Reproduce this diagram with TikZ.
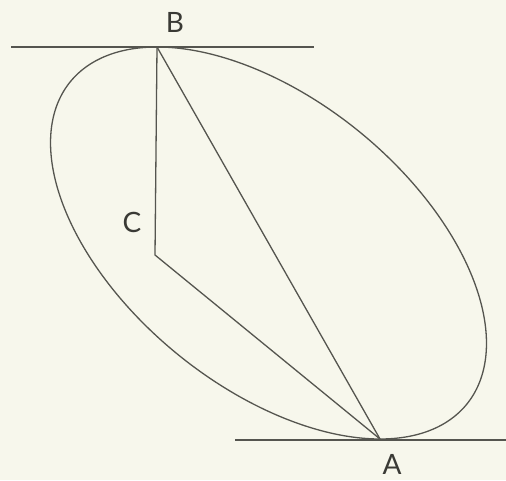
\documentclass[tikz,border=0pt]{standalone}
\usepackage{fontspec}
\setmainfont{Lato}
\definecolor{bg}{HTML}{F7F7EC}
\definecolor{ink}{HTML}{55554F}
\definecolor{txt}{HTML}{3A3A35}
\begin{document}
\begin{tikzpicture}[x=0.5pt,y=-0.5pt,
  geo/.style={draw=ink,line width=0.65pt},
  lbl/.style={text=txt,font=\fontsize{14}{16}\selectfont,inner sep=0pt}]
\fill[bg] (0,0) rectangle (506,480);
\useasboundingbox (0,0) rectangle (506,480);
\coordinate (B) at (157,47);
\coordinate (A) at (380,439);
\coordinate (C) at (155,255);
\coordinate (O) at (268.5,243);
\coordinate (tl) at (11,47);
\coordinate (tr) at (314,47);
\coordinate (bl) at (235,440);
\coordinate (br) at (506,440);
% ellipse with conjugate semi-diameters O->A and horizontal w
\draw[geo] plot[domain=0:360,samples=181,smooth cycle,variable=\t]
  ({268.5+111.5*cos(\t)+187.3*sin(\t)},{243+196*cos(\t)});
\draw[geo] (tl) -- (tr);
\draw[geo] (bl) -- (br);
\draw[geo] (B) -- (C) -- (A);
\draw[geo] (B) -- (A);
\node[lbl] (lB) at (175,22) {B};
\node[lbl] (lA) at (392,464) {A};
\node[lbl] (lC) at (132,222) {C};
\end{tikzpicture}
\end{document}
